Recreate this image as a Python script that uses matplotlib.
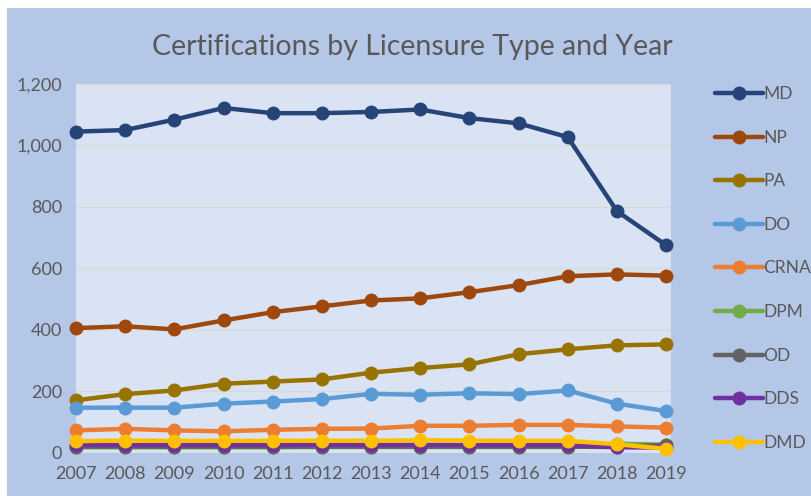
import matplotlib.pyplot as plt
from matplotlib.patches import Rectangle

years = list(range(2007, 2020))

md = [1045, 1050, 1084, 1122, 1105, 1105, 1109, 1117, 1089, 1072, 1027, 786, 675]
np_ = [405, 411, 401, 430, 457, 476, 495, 502, 522, 545, 574, 580, 576]
pa = [170, 190, 202, 224, 231, 238, 260, 275, 287, 320, 336, 349, 352]
do = [146, 146, 146, 159, 166, 174, 191, 188, 193, 190, 202, 159, 135]
crna = [72, 77, 72, 69, 74, 77, 78, 87, 87, 90, 90, 85, 81]
dpm = [17, 17, 17, 17, 17, 18, 18, 18, 18, 18, 18, 29, 25]
od = [19, 19, 19, 19, 19, 19, 19, 19, 19, 19, 19, 18, 25]
dds = [24, 24, 24, 24, 24, 25, 24, 25, 24, 24, 24, 17, 16]
dmd = [37, 39, 38, 38, 38, 39, 38, 40, 39, 38, 38, 27, 12]

series = [
    ('MD', md, '#264478'),
    ('NP', np_, '#9E480E'),
    ('PA', pa, '#997300'),
    ('DO', do, '#5B9BD5'),
    ('CRNA', crna, '#ED7D31'),
    ('DPM', dpm, '#70AD47'),
    ('OD', od, '#636363'),
    ('DDS', dds, '#7030A0'),
    ('DMD', dmd, '#FFC000'),
]

plt.rcParams['font.family'] = ['Lato', 'DejaVu Sans']
text_color = '#595959'

fig = plt.figure(figsize=(8.12, 4.96), dpi=100)
fig.patch.set_facecolor('white')
# chart background (white strip left/top like the original)
fig.patches.append(Rectangle((7 / 812, 0), 1, 1 - 8 / 496, transform=fig.transFigure,
                             facecolor='#B4C7E7', edgecolor='none', zorder=-10))

ax = fig.add_axes([76 / 812, 1 - 452.5 / 496, (671 - 76) / 812, (452.5 - 84) / 496])
ax.set_facecolor('#DAE3F3')

for name, vals, col in series:
    ax.plot(years, vals, color=col, linewidth=3.2, marker='o', markersize=9,
            label=name, clip_on=False, solid_capstyle='round')

ax.set_xlim(2007, 2019.1)
ax.set_ylim(0, 1200)
ax.set_yticks(range(0, 1201, 200))
ax.set_yticklabels([f'{v:,}' for v in range(0, 1201, 200)])
ax.set_xticks(years)
ax.set_xticklabels([str(y) for y in years])
ax.tick_params(length=0, labelsize=13, colors=text_color)
ax.tick_params(axis='y', pad=10)
ax.tick_params(axis='x', pad=10)
ax.grid(axis='y', color='#D9D9D9', linewidth=1)
ax.set_axisbelow(True)
for sp in ax.spines.values():
    sp.set_visible(False)

fig.text(0.508, 1 - 47 / 496, 'Certifications by Licensure Type and Year',
         ha='center', va='center', fontsize=20.5, color=text_color)

leg = fig.legend(loc='upper left', bbox_to_anchor=(715 / 812, 1 - 86 / 496),
                 frameon=False, fontsize=12.5, labelcolor=text_color,
                 handlelength=2.75, handletextpad=0.05, labelspacing=1.59,
                 borderpad=0, borderaxespad=0)

fig.savefig('out.png', dpi=100, facecolor=fig.get_facecolor())
